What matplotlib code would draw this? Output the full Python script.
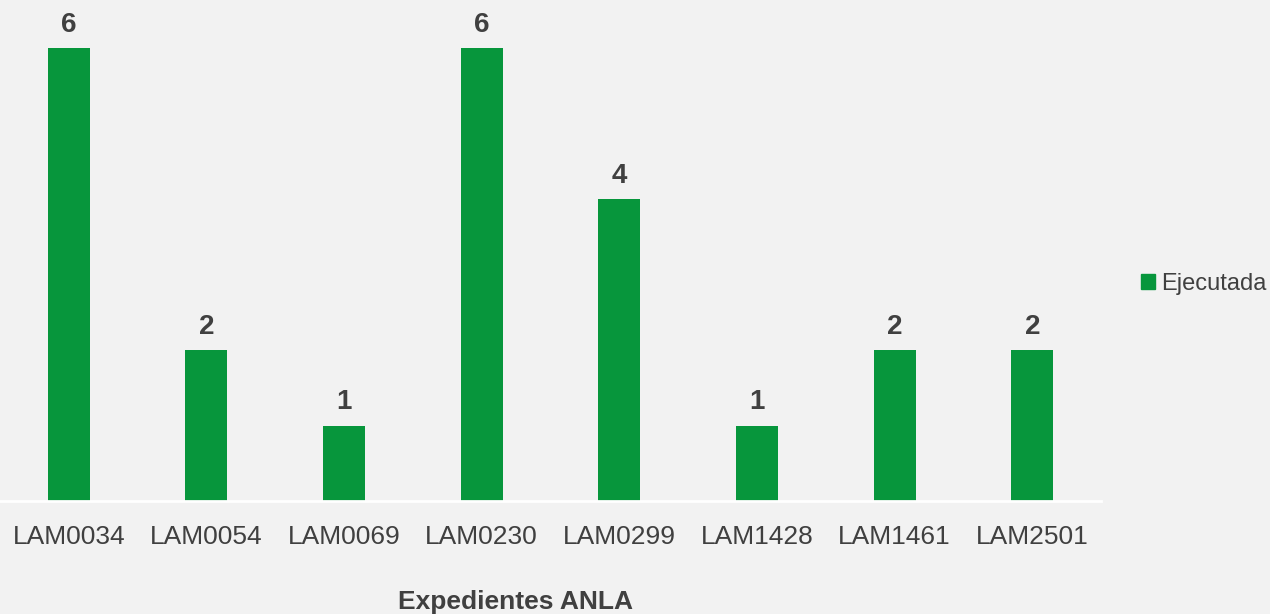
import numpy as np
import matplotlib
matplotlib.use("Agg")
import matplotlib.pyplot as plt
from matplotlib.patches import Patch

plt.rcParams['font.family'] = ['Liberation Sans', 'DejaVu Sans']

# datos
expedientes = ["LAM0034", "LAM0054", "LAM0069", "LAM0230",
               "LAM0299", "LAM1428", "LAM1461", "LAM2501"]
ejecutada = [6, 2, 1, 6, 4, 1, 2, 2]

fondo = "#F2F2F2"
verde = "#07963C"
gris = "#404040"

fig = plt.figure(figsize=(12.7, 6.14), dpi=100, facecolor=fondo)
ax = fig.add_axes([0.0, 0.184, 0.867, 0.816])
ax.set_facecolor(fondo)

x = np.arange(len(expedientes))
barras = ax.bar(x, ejecutada, width=0.305, color=verde, zorder=2)

for b, v in zip(barras, ejecutada):
    ax.annotate(str(v), (b.get_x() + b.get_width() / 2, v),
                xytext=(0, 7.5), textcoords="offset points",
                ha="center", va="bottom", fontsize=20, fontweight="bold",
                color=gris)

ax.set_xlim(-0.5, len(expedientes) - 0.5)
ax.set_ylim(0, 6.636)
ax.set_yticks([])
ax.set_xticks(x)
ax.set_xticklabels(expedientes, fontsize=19, color=gris)
ax.tick_params(axis="x", length=0, pad=17)

for s in ["top", "right", "left"]:
    ax.spines[s].set_visible(False)
ax.spines["bottom"].set_color("white")
ax.spines["bottom"].set_linewidth(2)

fig.text(516 / 1270, 1 - 602 / 614, "Expedientes ANLA", ha="center",
         va="center", fontsize=19, fontweight="bold", color=gris)

leg = fig.legend(handles=[Patch(color=verde, label="Ejecutada")],
                 loc="center left", bbox_to_anchor=(1141 / 1270, 1 - 284 / 614),
                 frameon=False, fontsize=17, handlelength=0.6, handleheight=0.6,
                 handletextpad=0.25, borderaxespad=0, borderpad=0)
for t in leg.get_texts():
    t.set_color(gris)

fig.savefig("out.png", dpi=100, facecolor=fondo)
